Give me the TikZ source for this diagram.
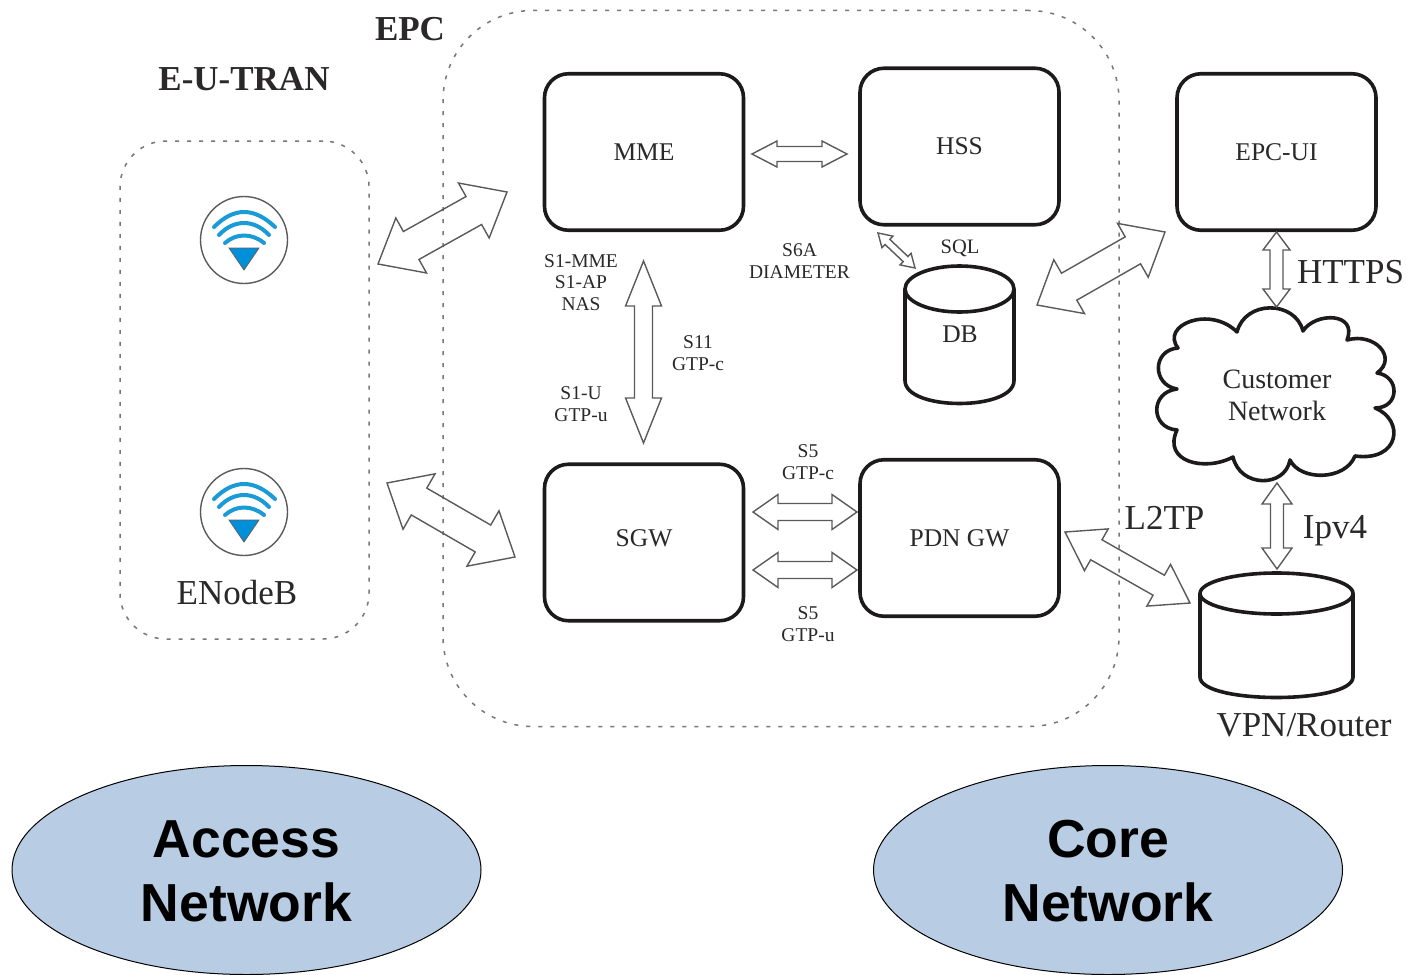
\documentclass[tikz,border=0pt]{standalone}
\usepackage{fontspec}
\setmainfont{Liberation Serif}
\newfontfamily\headsans{Liberation Sans}
\usetikzlibrary{calc,shapes.geometric}
\definecolor{inkc}{HTML}{1C1A1A}
\definecolor{textc}{HTML}{2A2828}
\definecolor{arrowc}{HTML}{5A5A5A}
\definecolor{dashc}{HTML}{777777}
\definecolor{ovalc}{HTML}{B8CCE4}
\definecolor{wific}{HTML}{1B9AD8}
\definecolor{tric}{HTML}{0090DA}
\tikzset{
  boxnode/.style={draw=inkc,line width=3.6pt,rounded corners=24pt,minimum width=199pt,minimum height=156.5pt,inner sep=0pt,font=\fontsize{25.5}{30}\selectfont,text=textc},
  region/.style={draw=dashc,line width=1.5pt,dash pattern=on 4pt off 8pt,inner sep=0pt},
  heavy/.style={draw=inkc,line width=3.6pt},
  fatline/.style={draw=arrowc,line width=1.4pt,line join=miter},
  smalltext/.style={font=\fontsize{19.5}{21.5}\selectfont,text=textc,align=center,inner sep=0pt,anchor=base},
  midtext/.style={font=\fontsize{25.5}{30}\selectfont,text=textc,inner sep=0pt,anchor=base},
  bigtext/.style={font=\fontsize{35}{40}\selectfont,text=textc,inner sep=0pt,anchor=base},
  boldtext/.style={font=\fontsize{35}{40}\selectfont\bfseries,text=textc,inner sep=0pt,anchor=base},
  oval/.style={ellipse,draw=black,line width=1pt,fill=ovalc,minimum width=469pt,minimum height=209pt,inner sep=0pt},
  ovaltext/.style={inner sep=0pt,align=center,font=\headsans\bfseries\fontsize{53.5}{64}\selectfont},
  wifi/.pic={
    \draw[draw=arrowc,line width=1.4pt,fill=white] (0,0) circle (43.5pt);
    \draw[wific,line width=4pt,line cap=round] (-30,-13) .. controls (-10,-33) and (10,-33) .. (31,-13);
    \draw[wific,line width=4pt,line cap=round] (-25,-5) .. controls (-10,-21) and (10,-21) .. (25,-5);
    \draw[wific,line width=4pt,line cap=round] (-19,3) .. controls (-8,-7) and (8,-7) .. (20,3);
    \draw[draw=inkc!70,line width=.8pt,fill=tric] (-15,8) -- (15,8) -- (0,30) -- cycle;
  }
}
\newcommand\fatarrow[5]{%
  \coordinate (fa) at ($(#1)!#5pt!(#2)$);
  \coordinate (fb) at ($(#2)!#5pt!(#1)$);
  \draw[fatline] (#1) -- ($(fa)!#3pt!90:(#2)$) -- ($(fa)!#4pt!90:(#2)$) -- ($(fb)!#4pt!-90:(#1)$) -- ($(fb)!#3pt!-90:(#1)$) -- (#2) -- ($(fb)!#3pt!90:(#1)$) -- ($(fb)!#4pt!90:(#1)$) -- ($(fa)!#4pt!-90:(#2)$) -- ($(fa)!#3pt!-90:(#2)$) -- cycle;}
\newcommand\drumshape[5]{% cx, top-centre y, rx, ry, side-end y
  \draw[heavy] (#1-#3,#2) -- (#1-#3,#5) .. controls (#1-#3,#5+1.333*#4) and (#1+#3,#5+1.333*#4) .. (#1+#3,#5) -- (#1+#3,#2);
  \draw[heavy] (#1,#2) ellipse [x radius=#3 pt,y radius=#4 pt];}
\begin{document}
\begin{tikzpicture}[x=1pt,y=-1pt]
\useasboundingbox (0,0) rectangle (1407,974);
\fill[white] (0,0) rectangle (1407,974);

% dashed regions
\node[region,rounded corners=90pt,minimum width=676pt,minimum height=716pt] (epc) at (781,368.5) {};
\node[region,rounded corners=46pt,minimum width=249pt,minimum height=498pt] (eutran) at (244.5,390) {};
\node[boldtext] (epclabel) at (410,41) {EPC};
\node[boldtext] (eutranlabel) at (244,90) {E-U-TRAN};

% boxes
\node[boxnode] (mme) at (644,152) {MME};
\node[boxnode] (hss) at (959.5,146.5) {HSS};
\node[boxnode] (ui) at (1276.5,152) {EPC-UI};
\node[boxnode] (sgw) at (644,542.5) {\raisebox{9pt}{SGW}};
\node[boxnode] (pdn) at (959.5,538) {PDN GW};

% enodeB icons
\pic (enbone) at (244,240) {wifi};
\pic (enbtwo) at (244,512) {wifi};
\node[bigtext] (enb) at (237,604) {ENodeB};

% DB and router
\drumshape{959.5}{289}{54.5}{23}{380.5}
\node[midtext] (db) at (960,342) {DB};
\drumshape{1276.5}{593.5}{76.5}{20.5}{677}
\node[bigtext] (vpn) at (1304,736) {VPN/Router};

% cloud
\draw[heavy,line join=round] (1237,332)
  .. controls (1245,300) and (1295,300) .. (1303,331)
  .. controls (1315,312) and (1358,312) .. (1347,340)
  .. controls (1375,332) and (1398,358) .. (1377,373)
  .. controls (1400,376) and (1400,408) .. (1375,408)
  .. controls (1405,420) and (1400,462) .. (1355,456)
  .. controls (1345,481) and (1300,481) .. (1290,460)
  .. controls (1285,488) and (1240,488) .. (1233,457)
  .. controls (1205,472) and (1162,462) .. (1177,430)
  .. controls (1150,428) and (1150,392) .. (1177,389)
  .. controls (1152,385) and (1152,350) .. (1178,348)
  .. controls (1160,325) and (1210,305) .. cycle;
\node[font=\fontsize{28}{32}\selectfont,text=textc,align=center,inner sep=0pt,anchor=base] (cloud) at (1277,420) {Customer\\Network};

% ovals
\node[oval] (accessoval) at (246.5,870) {};
\node[ovaltext] (access) at (246.5,871) {Access\\Network};
\node[oval] (coreoval) at (1108,870) {};
\node[ovaltext] (core) at (1108,871) {Core\\Network};

% connector ends
\coordinate (aA) at (378,264);   \coordinate (aB) at (507,192);
\coordinate (bA) at (387,483);   \coordinate (bB) at (515,557);
\coordinate (cA) at (752,154);   \coordinate (cB) at (847,154);
\coordinate (dA) at (878,233);   \coordinate (dB) at (915,268);
\coordinate (eA) at (643.5,261); \coordinate (eB) at (643.5,443);
\coordinate (fA) at (753,512);   \coordinate (fB) at (857,512);
\coordinate (gA) at (753,570);   \coordinate (gB) at (857,570);
\coordinate (hA) at (1276.5,232);\coordinate (hB) at (1276.5,307);
\coordinate (iA) at (1277,483);  \coordinate (iB) at (1277,569);
\coordinate (jA) at (1065,532);  \coordinate (jB) at (1190,603);
\coordinate (kA) at (1037,305);  \coordinate (kB) at (1165,232);

\fatarrow{aA}{aB}{31.5}{16}{38}
\fatarrow{bA}{bB}{32}{15.5}{37}
\fatarrow{cA}{cB}{13}{7.5}{25}
\fatarrow{dA}{dB}{8}{3.5}{13}
\fatarrow{eA}{eB}{18}{9}{45}
\fatarrow{fA}{fB}{17.5}{8.5}{25}
\fatarrow{gA}{gB}{17.5}{8.5}{25}
\fatarrow{hA}{hB}{13.5}{6.5}{18}
\fatarrow{iA}{iB}{15}{6.5}{21}
\fatarrow{jA}{jB}{24}{11.5}{36}
\fatarrow{kA}{kB}{31}{15.5}{37}

% labels
\node[smalltext,font=\fontsize{20.5}{24}\selectfont] (sql) at (960,253) {SQL};
\node[smalltext] (s6a) at (799.5,278) {S6A\\DIAMETER};
\node[smalltext] (s1mme) at (581,310) {S1-MME\\S1-AP\\NAS};
\node[smalltext] (s11) at (698,370) {S11\\GTP-c};
\node[smalltext] (s1u) at (581,421) {S1-U\\GTP-u};
\node[smalltext] (s5c) at (808,479) {S5\\GTP-c};
\node[smalltext] (s5u) at (808,641) {S5\\GTP-u};
\node[bigtext] (https) at (1350.5,283) {HTTPS};
\node[bigtext] (ltp) at (1164.5,529) {L2TP};
\node[bigtext] (ipv) at (1335,538) {Ipv4};
\end{tikzpicture}
\end{document}
